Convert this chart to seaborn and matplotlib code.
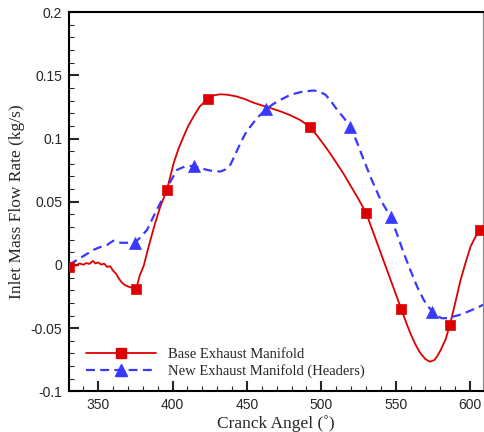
import matplotlib
matplotlib.use("Agg")
import matplotlib.pyplot as plt
import seaborn as sns
from matplotlib.lines import Line2D
from matplotlib.ticker import MultipleLocator

# Base exhaust manifold curve
base_angle = [330.5, 333, 335, 337.5, 340, 342, 344, 346.5, 348, 350, 352, 354, 356, 358,
              360, 362, 364, 366, 368, 370, 372, 375.5, 378, 380.5, 384, 388, 391.7,
              396.2, 400.7, 404, 407.4, 410.5, 414.1, 418, 423.6, 428, 432, 437, 443,
              449, 454.5, 460, 466, 472.5, 479, 485.5, 492.2, 498, 504, 510, 515, 520,
              525, 530.0, 535, 540, 545, 550, 553.7, 557, 560, 563.5, 566.7, 570, 573,
              576, 578, 580.2, 583.5, 586.4, 590, 593.6, 597, 600.3, 603.5, 606.6, 608.7]
base_flow = [-0.0013, 0.0005, -0.0005, 0.0012, 0.0002, 0.0015, 0.0008, 0.0032, 0.0012,
             0.0020, 0.0003, 0.0010, -0.0015, -0.0010, -0.0045, -0.0070, -0.0110, -0.0140,
             -0.0160, -0.0170, -0.0178, -0.0190, -0.0080, -0.0010, 0.0150, 0.0320, 0.0460,
             0.0594, 0.0805, 0.0920, 0.1016, 0.1100, 0.1174, 0.1250, 0.1314, 0.1342,
             0.1350, 0.1346, 0.1333, 0.1310, 0.1283, 0.1262, 0.1240, 0.1215, 0.1185,
             0.1148, 0.1095, 0.1010, 0.0915, 0.0810, 0.0720, 0.0620, 0.0520, 0.0414,
             0.0254, 0.0093, -0.0068, -0.0228, -0.0348, -0.0455, -0.0545, -0.0635, -0.0700,
             -0.0745, -0.0765, -0.0752, -0.0720, -0.0673, -0.0590, -0.0475, -0.0300,
             -0.0119, 0.0020, 0.0145, 0.0220, 0.0277, 0.0310]
base_mark_angle = [330.5, 375.5, 396.2, 423.6, 492.2, 530.0, 553.7, 586.4, 606.6]
base_mark_flow = [-0.0013, -0.0190, 0.0594, 0.1314, 0.1095, 0.0414, -0.0348, -0.0475, 0.0277]

# New exhaust manifold (headers) curve
new_angle = [330.5, 335, 340, 346.8, 351, 355.9, 358, 360.3, 362, 363.7, 367, 371, 374.9,
             378, 382.8, 387, 391.7, 395.1, 399, 403, 408, 414.1, 418.5, 423.1, 427.5,
             432.1, 435.5, 438.8, 442, 445.6, 449, 452.3, 457, 463.1, 467.5, 472.5, 479.2,
             487, 494.9, 499, 502.8, 506.5, 510.6, 515, 519.6, 524, 528.5, 534, 539.8,
             546.5, 551, 555.4, 560, 564.4, 569, 574.5, 578, 581.3, 585, 588.0, 592,
             595.8, 601, 607.1, 608.7]
new_flow = [0.0000, 0.0035, 0.0070, 0.0119, 0.0140, 0.0158, 0.0175, 0.0192, 0.0188, 0.0177,
            0.0175, 0.0176, 0.0177, 0.0215, 0.0277, 0.0380, 0.0489, 0.0568, 0.0670, 0.0752,
            0.0778, 0.0784, 0.0768, 0.0752, 0.0742, 0.0739, 0.0755, 0.0792, 0.0870, 0.0964,
            0.1040, 0.1095, 0.1165, 0.1233, 0.1272, 0.1306, 0.1346, 0.1370, 0.1380, 0.1370,
            0.1346, 0.1295, 0.1227, 0.1165, 0.1092, 0.0970, 0.0831, 0.0670, 0.0515, 0.0382,
            0.0240, 0.0093, -0.0045, -0.0172, -0.0280, -0.0370, -0.0405, -0.0422, -0.0420,
            -0.0410, -0.0398, -0.0383, -0.0357, -0.0325, -0.0315]
new_mark_angle = [374.9, 414.1, 463.1, 519.6, 546.5, 574.5]
new_mark_flow = [0.0177, 0.0784, 0.1233, 0.1092, 0.0382, -0.0370]

x_ticks = [350, 400, 450, 500, 550, 600]
y_ticks = [-0.1, -0.05, 0, 0.05, 0.1, 0.15, 0.2]
y_tick_labels = ["-0.1", "-0.05", "0", "0.05", "0.1", "0.15", "0.2"]

red = "#dd0000"
blue = "#3838ff"

sns.set_style("white")
plt.rcParams["font.family"] = ["Liberation Sans", "DejaVu Sans"]

fig = plt.figure(figsize=(4.84, 4.32), dpi=100)
ax = fig.add_axes([0.143, 0.094, 0.855, 0.878])

sns.lineplot(x=base_angle, y=base_flow, sort=False, estimator=None, color=red,
             linewidth=1.3, ax=ax)
sns.lineplot(x=new_angle, y=new_flow, sort=False, estimator=None, color=blue,
             linewidth=1.6, dashes=False, ax=ax)
ax.lines[-1].set_dashes((4.0, 2.4))

sns.scatterplot(x=base_mark_angle, y=base_mark_flow, marker="s", s=55, color=red,
                edgecolor=red, linewidth=0.5, ax=ax, zorder=5)
sns.scatterplot(x=new_mark_angle, y=new_mark_flow, marker="^", s=75, color=blue,
                edgecolor=blue, linewidth=0.5, ax=ax, zorder=5)

ax.set_xlim(330.5, 608.7)
ax.set_ylim(-0.1, 0.2)
ax.set_xticks(x_ticks)
ax.set_yticks(y_ticks)
ax.set_yticklabels(y_tick_labels)
ax.xaxis.set_minor_locator(MultipleLocator(10))
ax.yaxis.set_minor_locator(MultipleLocator(0.01))
ax.tick_params(which="major", direction="in", length=7, width=1.5, labelsize=10,
               bottom=True, left=True, top=False, right=False, pad=5)
ax.tick_params(which="minor", direction="in", length=3.5, width=0.8,
               bottom=True, left=True, top=False, right=False)

for side in ["left", "bottom", "top"]:
    ax.spines[side].set_linewidth(1.5)
    ax.spines[side].set_color("black")
ax.spines["right"].set_linewidth(0.8)
ax.spines["right"].set_color("#888888")

ax.set_xlabel("Cranck Angel (˚)", family=["Liberation Serif", "DejaVu Serif"],
              fontsize=12.5, labelpad=2)
ax.set_ylabel("Inlet Mass Flow Rate (kg/s)", family=["Liberation Serif", "DejaVu Serif"],
              fontsize=12.5, labelpad=4)

handles = [
    Line2D([], [], color=red, linewidth=1.3, marker="s", markersize=7.5),
    Line2D([], [], color=blue, linewidth=1.6, dashes=(4.0, 2.4), marker="^", markersize=8.5),
]
ax.legend(handles, ["Base Exhaust Manifold", "New Exhaust Manifold (Headers)"],
          loc="lower left", bbox_to_anchor=(0.01, 0.0), frameon=False, numpoints=1,
          handlelength=4.8, handletextpad=0.8, labelspacing=0.25,
          prop={"family": ["Liberation Serif", "DejaVu Serif"], "size": 10.5})

fig.savefig("out.png", dpi=100)
